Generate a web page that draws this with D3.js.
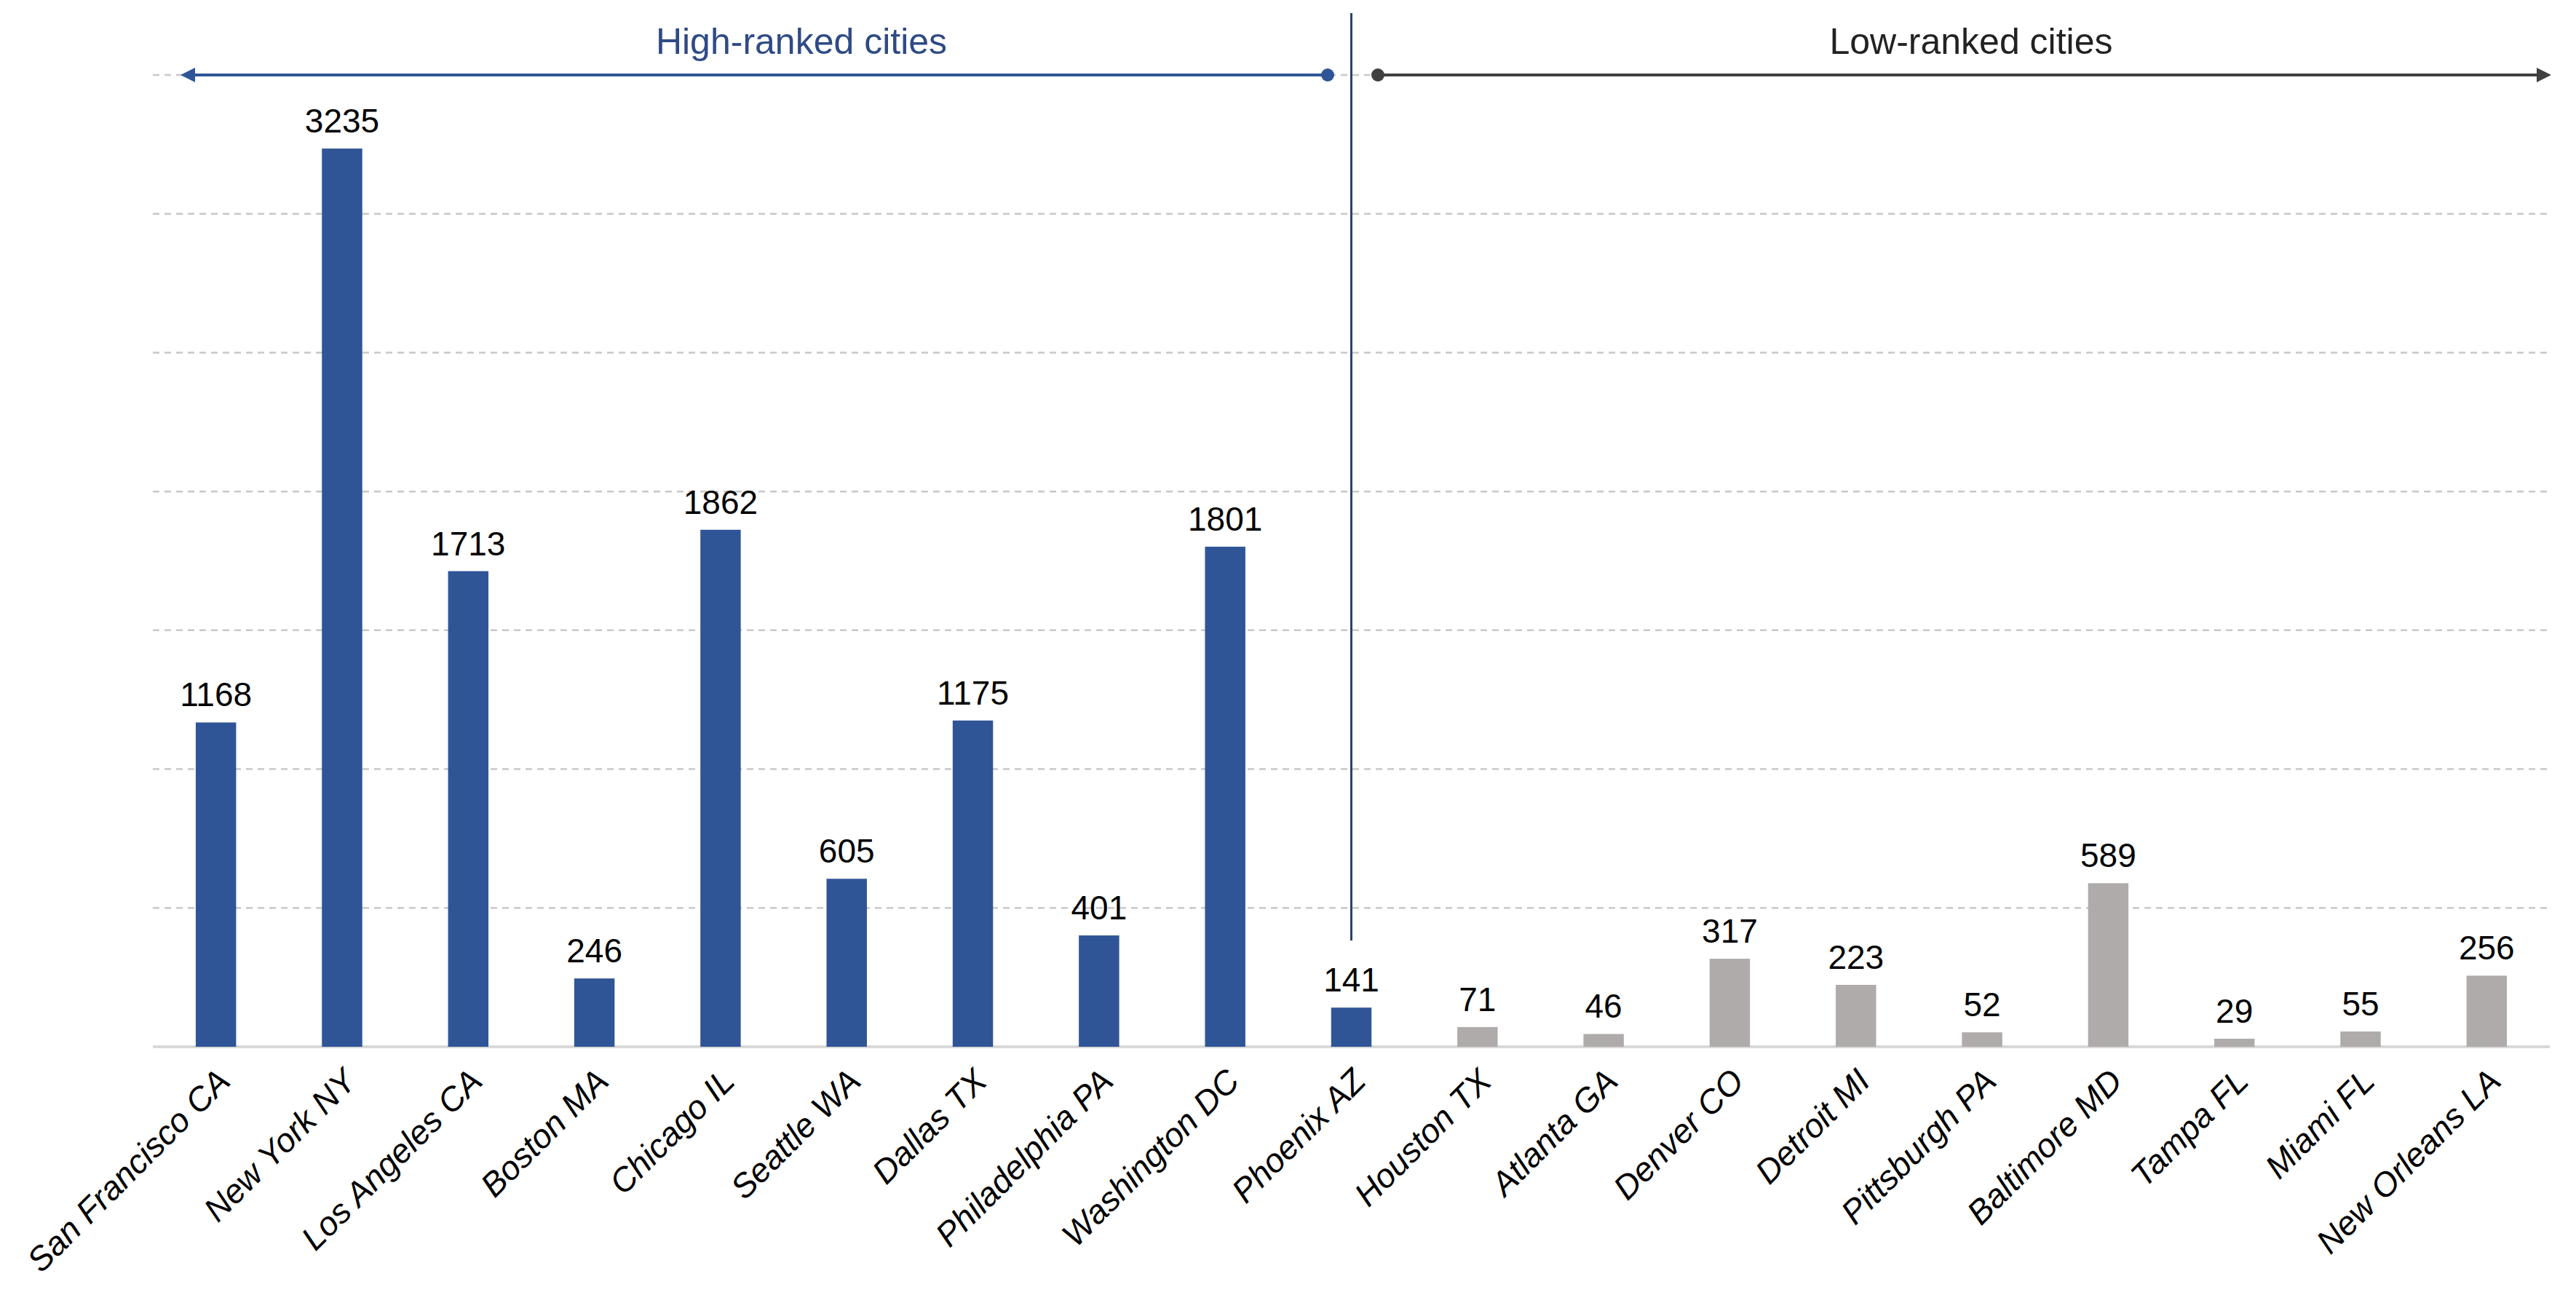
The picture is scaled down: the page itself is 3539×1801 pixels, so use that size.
<!DOCTYPE html><html><head><meta charset="utf-8"><script src="https://cdn.jsdelivr.net/npm/d3@7"></script>
<style>body{margin:0;background:#fff}text{font-family:"Liberation Sans",Arial,sans-serif}</style></head><body><svg id="c" width="3539" height="1801"></svg>
<script>
const cities=["San Francisco CA","New York NY","Los Angeles CA","Boston MA","Chicago IL","Seattle WA","Dallas TX","Philadelphia PA","Washington DC","Phoenix AZ","Houston TX","Atlanta GA","Denver CO","Detroit MI","Pittsburgh PA","Baltimore MD","Tampa FL","Miami FL","New Orleans LA"];
const values=[1168,3235,1713,246,1862,605,1175,401,1801,141,71,46,317,223,52,589,29,55,256];
const groups=["high","high","high","high","high","high","high","high","high","high","low","low","low","low","low","low","low","low","low"];
const gridTicks=[0,500,1000,1500,2000,2500,3000,3500];
const svg=d3.select("#c");
const x=d3.scaleBand().domain(cities).range([210,3503]).paddingInner(0.68).paddingOuter(0.34);
const y=d3.scaleLinear().domain([0,3500]).range([1438,103]);
svg.selectAll(".g").data(gridTicks.slice(1)).enter().append("line").attr("x1",210).attr("x2",3503).attr("y1",d=>y(d)).attr("y2",d=>y(d)).attr("stroke","#c8c8c8").attr("stroke-width",2.5).attr("stroke-dasharray","9,7");
svg.append("line").attr("x1",210).attr("x2",3503).attr("y1",y(0)).attr("y2",y(0)).attr("stroke","#d9d9d9").attr("stroke-width",4);
svg.selectAll(".b").data(cities).enter().append("rect").attr("x",d=>x(d)).attr("width",x.bandwidth()).attr("y",(d,i)=>y(values[i])).attr("height",(d,i)=>y(0)-y(values[i])).attr("fill",(d,i)=>groups[i]==="high"?"#2F5597":"#AFABAB");
svg.selectAll(".v").data(cities).enter().append("text").attr("x",d=>x(d)+x.bandwidth()/2).attr("y",(d,i)=>y(values[i])-22).attr("text-anchor","middle").attr("font-size",46).attr("fill","#000").text((d,i)=>values[i]);
svg.selectAll(".l").data(cities).enter().append("text").attr("transform",d=>`translate(${x(d)+x.bandwidth()/2+22},${y(0)+50}) rotate(-45)`).attr("text-anchor","end").attr("font-size",46).attr("font-style","italic").attr("fill","#000").text(d=>d);
const px=x("Phoenix AZ")+x.bandwidth()/2;
svg.append("line").attr("x1",px).attr("x2",px).attr("y1",18).attr("y2",1292).attr("stroke","#2F3F70").attr("stroke-width",3);
const defs=svg.append("defs");
[["ab","#2F5597"],["ag","#404040"]].forEach(([id,c])=>defs.append("marker").attr("id",id).attr("viewBox","0 0 10 10").attr("refX",5).attr("refY",5).attr("markerWidth",5).attr("markerHeight",5).attr("orient","auto-start-reverse").append("path").attr("d","M0,0L10,5L0,10z").attr("fill",c));
const ay=y(3500);
svg.append("line").attr("x1",1824).attr("x2",258).attr("y1",ay).attr("y2",ay).attr("stroke","#2F5597").attr("stroke-width",4).attr("marker-end","url(#ab)");
svg.append("circle").attr("cx",1824).attr("cy",ay).attr("r",9).attr("fill","#2F5597");
svg.append("line").attr("x1",1893).attr("x2",3495).attr("y1",ay).attr("y2",ay).attr("stroke","#404040").attr("stroke-width",4).attr("marker-end","url(#ag)");
svg.append("circle").attr("cx",1893).attr("cy",ay).attr("r",9).attr("fill","#404040");
svg.append("text").attr("x",1101).attr("y",74).attr("text-anchor","middle").attr("font-size",50).attr("fill","#2F4A85").text("High-ranked cities");
svg.append("text").attr("x",2708).attr("y",74).attr("text-anchor","middle").attr("font-size",50).attr("fill","#222").text("Low-ranked cities");
</script></body></html>
